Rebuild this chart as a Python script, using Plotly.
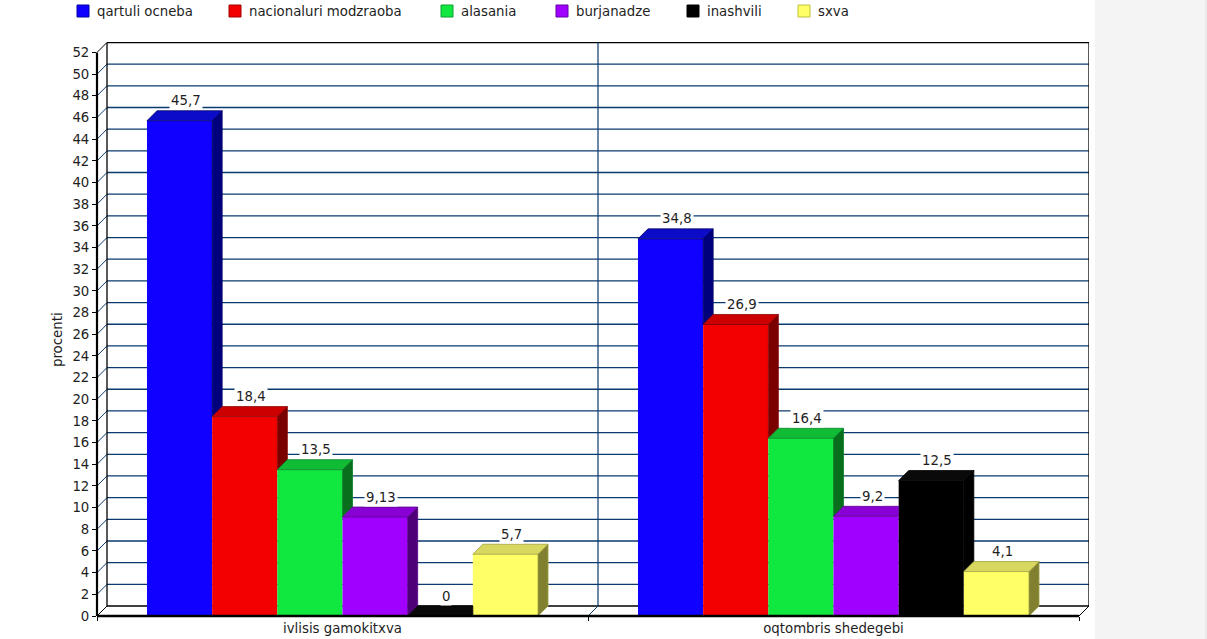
import plotly.graph_objects as go

# ---------------- data ----------------
categories = ["ivlisis gamokitxva", "oqtombris shedegebi"]
series_names = ["qartuli ocneba", "nacionaluri modzraoba", "alasania",
                "burjanadze", "inashvili", "sxva"]
qartuli_ocneba = [45.7, 34.8]
nacionaluri_modzraoba = [18.4, 26.9]
alasania = [13.5, 16.4]
burjanadze = [9.13, 9.2]
inashvili = [0, 12.5]
sxva = [5.7, 4.1]
y_ticks = list(range(0, 53, 2))
y_title = "procenti"

series_values = [qartuli_ocneba, nacionaluri_modzraoba, alasania,
                 burjanadze, inashvili, sxva]

# ---------------- styles ----------------
front_colors = ["#1000ff", "#f20000", "#10e840", "#a000ff", "#000000", "#ffff66"]
top_colors = ["#0c0cc8", "#cc0000", "#10bc34", "#8800d4", "#0a0a0a", "#d8d860"]
side_colors = ["#00007c", "#7a0000", "#08701c", "#4e0078", "#000000", "#808030"]
edge_colors = ["#00006a", "#8a0000", "#088028", "#5a0088", "#000000", "#a0a040"]
legend_border = ["#0000a0", "#a00000", "#08a030", "#6000a0", "#000000", "#c0c040"]

W, H = 1207, 639
L, R, T, B = 97, 118, 42, 23
CAT_PX = 491.0            # pixel width of one category (front plane)
DEPTH = 10.0              # 3D depth in pixels
PX_Y = 10.837             # pixels per unit on y
plot_w = W - L - R
plot_h = H - T - B
DX = DEPTH / CAT_PX
DY = DEPTH / PX_Y
y_max = plot_h / PX_Y
BARGAP = 0.2036
nser = len(series_values)
bw = (1 - BARGAP) / nser

FONT = "DejaVu Sans"
FS = 13.3
TXT = "#1e1e1e"
GRID = "#0b3a6e"


def fmt(v):
    return f"{v:g}".replace(".", ",")


def px2paper(px, py):
    return (px - L) / plot_w, (H - B - py) / plot_h


fig = go.Figure()

# front faces as bars
for j, (name, vals) in enumerate(zip(series_names, series_values)):
    fig.add_trace(go.Bar(
        x=list(range(len(categories))), y=vals, name=name,
        marker=dict(color=front_colors[j], line=dict(width=0)),
        showlegend=False, hoverinfo="skip"))

# side and top faces
annotations = []
for i in range(len(categories)):
    for j in range(nser):
        v = series_values[j][i]
        vn = series_values[j + 1][i] if j + 1 < nser else None
        x0 = i - (1 - BARGAP) / 2 + j * bw
        x1 = x0 + bw
        # side face
        b = max(0, vn) if vn is not None else 0
        if b < v:
            xs = [x1, x1, x1 + DX, x1 + DX, x1]
            ys = [b, v, v + DY, b + DY, b]
            fig.add_trace(go.Scatter(
                x=xs, y=ys, mode="lines", fill="toself",
                fillcolor=side_colors[j],
                line=dict(color=edge_colors[j], width=0.8),
                showlegend=False, hoverinfo="skip"))
        # top face
        if vn is None or vn <= v:
            pts = [(x0, v), (x1, v), (x1 + DX, v + DY), (x0 + DX, v + DY)]
        elif vn >= v + DY:
            pts = [(x0, v), (x1, v), (x1, v + DY), (x0 + DX, v + DY)]
        else:
            f = (vn - v) / DY
            pts = [(x0, v), (x1, v), (x1, vn), (x1 + f * DX, vn),
                   (x1 + DX, v + DY), (x0 + DX, v + DY)]
        pts.append(pts[0])
        fig.add_trace(go.Scatter(
            x=[p[0] for p in pts], y=[p[1] for p in pts], mode="lines",
            fill="toself", fillcolor=top_colors[j],
            line=dict(color=edge_colors[j], width=0.8),
            showlegend=False, hoverinfo="skip"))
        # value label
        annotations.append(dict(
            x=(x0 + x1) / 2 + DX / 2 + 1 / CAT_PX, y=v + DY, xref="x", yref="y",
            text=fmt(v), showarrow=False, yshift=10, yanchor="middle",
            bgcolor="white", borderpad=1,
            font=dict(family=FONT, size=FS, color=TXT)))

shapes = []
XL, XR = -0.5, len(categories) - 0.5
top_v = y_ticks[-1]
# back wall grid lines
for v in y_ticks[1:-1]:
    shapes.append(dict(type="line", xref="x", yref="y", x0=XL + DX, x1=XR + DX,
                       y0=v + DY, y1=v + DY, layer="below",
                       line=dict(color=GRID, width=1.3)))
# left wall diagonals
for v in y_ticks:
    c = "black" if v in (0, top_v) else GRID
    shapes.append(dict(type="line", xref="x", yref="y", x0=XL, x1=XL + DX,
                       y0=v, y1=v + DY, layer="below",
                       line=dict(color=c, width=1)))
# back wall outline
for (ax0, ay0, ax1, ay1) in [
        (XL + DX, DY, XL + DX, top_v + DY),
        (XR + DX, DY, XR + DX, top_v + DY),
        (XL + DX, top_v + DY, XR + DX, top_v + DY),
        (XL + DX, DY, XR + DX, DY)]:
    shapes.append(dict(type="line", xref="x", yref="y", x0=ax0, x1=ax1,
                       y0=ay0, y1=ay1, layer="below",
                       line=dict(color="black", width=1.3)))
# middle divider and floor diagonals
for k in range(1, len(categories)):
    xm = k - 0.5
    shapes.append(dict(type="line", xref="x", yref="y", x0=xm + DX, x1=xm + DX,
                       y0=DY, y1=top_v + DY, layer="below",
                       line=dict(color=GRID, width=1.2)))
    shapes.append(dict(type="line", xref="x", yref="y", x0=xm, x1=xm + DX,
                       y0=0, y1=DY, layer="below",
                       line=dict(color=GRID, width=1)))
shapes.append(dict(type="line", xref="x", yref="y", x0=XR, x1=XR + DX,
                   y0=0, y1=DY, layer="below",
                   line=dict(color="black", width=1)))
# front axes
shapes.append(dict(type="line", xref="paper", yref="y", x0=0, x1=0,
                   y0=0, y1=top_v, layer="above",
                   line=dict(color="black", width=2.2)))
shapes.append(dict(type="line", xref="x", yref="paper", x0=XL, x1=XR,
                   y0=0, y1=0, layer="above",
                   line=dict(color="black", width=2.6)))

# gray side panel
gx0, gy0 = px2paper(1095, 0)
gx1, gy1 = px2paper(1207, 639)
shapes.append(dict(type="rect", xref="paper", yref="paper", x0=gx0, x1=gx1,
                   y0=gy1, y1=gy0, layer="below", fillcolor="#f4f4f4",
                   line=dict(width=0)))
shapes.append(dict(type="line", xref="paper", yref="paper",
                   x0=px2paper(1206, 0)[0], x1=px2paper(1206, 0)[0],
                   y0=gy1, y1=gy0, layer="below",
                   line=dict(color="#e2e2e2", width=1)))

# manual legend
legend_x = [77, 229, 441, 556, 687, 798]
for j, name in enumerate(series_names):
    sx0, sy0 = px2paper(legend_x[j], 5)
    sx1, sy1 = px2paper(legend_x[j] + 12, 17)
    shapes.append(dict(type="rect", xref="paper", yref="paper",
                       x0=sx0, x1=sx1, y0=sy1, y1=sy0,
                       fillcolor=front_colors[j],
                       line=dict(color=legend_border[j], width=1)))
    tx, ty = px2paper(legend_x[j] + 18, 11)
    annotations.append(dict(x=tx, y=ty, xref="paper", yref="paper",
                            text=name, showarrow=False, xanchor="left",
                            yanchor="middle",
                            font=dict(family=FONT, size=FS, color=TXT)))

# y axis title
yx, yy = px2paper(57, 340)
annotations.append(dict(x=yx, y=yy, xref="paper", yref="paper", text=y_title,
                        showarrow=False, textangle=-90, xanchor="center",
                        yanchor="middle",
                        font=dict(family=FONT, size=FS, color=TXT)))

fig.update_layout(
    width=W, height=H, autosize=False,
    margin=dict(l=L, r=R, t=T, b=B, pad=0, autoexpand=False),
    paper_bgcolor="white", plot_bgcolor="white",
    barmode="group", bargap=BARGAP, bargroupgap=0,
    showlegend=False,
    shapes=shapes, annotations=annotations,
    xaxis=dict(range=[XL, XR + DX], tickmode="array", automargin=False,
               tickvals=list(range(len(categories))), ticktext=categories,
               ticks="", showgrid=False, zeroline=False, showline=False,
               ticklabelstandoff=3,
               tickfont=dict(family=FONT, size=FS, color=TXT),
               minor=dict(tickmode="array",
                          tickvals=[k - 0.5 for k in range(len(categories) + 1)],
                          ticks="outside", ticklen=4, tickcolor="black",
                          tickwidth=1, showgrid=False),
               fixedrange=True),
    yaxis=dict(range=[0, y_max], tickmode="array", tickvals=y_ticks,
               automargin=False,
               ticktext=[str(t) for t in y_ticks],
               ticks="outside", ticklen=4, tickcolor="black", tickwidth=1,
               showgrid=False, zeroline=False, showline=False,
               tickfont=dict(family=FONT, size=FS, color=TXT),
               fixedrange=True),
)

fig.write_html("out.html", config={"displayModeBar": False},
               post_script="document.body.style.margin='0px';"
                           "document.body.style.overflow='hidden';")
